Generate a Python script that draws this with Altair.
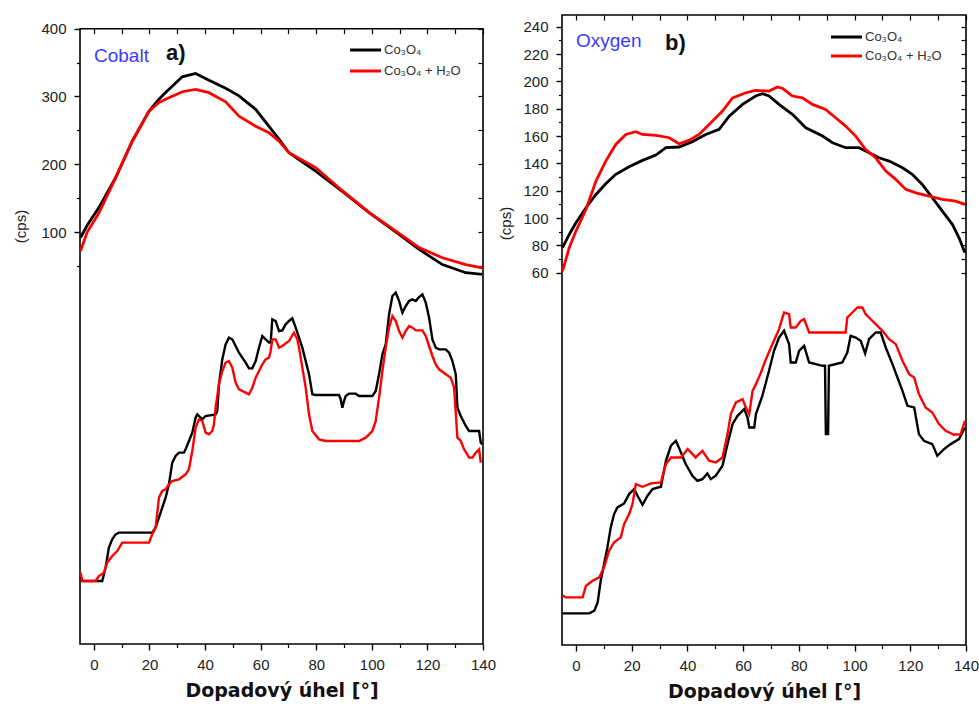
import altair as alt
import pandas as pd

S1 = "Co₃O₄"
S2 = "Co₃O₄ + H₂O"
FONT = "Liberation Sans"
BLACK = "#000000"
RED = "#ff0000"

# ---------------- Panel a (Cobalt) ----------------
# upper curves, counts (cps)
a_up_deg = [-4.8, -2.4, 1.8, 7.8, 13.8, 19.8, 23.4, 25.8, 31.8, 36.6, 41.4, 47.4, 52.2, 58.2,
            63.0, 66.6, 70.2, 79.8, 89.4, 99.0, 109.8, 117.0, 125.4, 133.8, 139.8]
a_up_black = [92, 110, 136, 180, 234, 278, 296, 306, 329, 334, 324, 312, 301, 281,
              256, 237, 217, 190, 160, 128.5, 96.5, 74.4, 52, 40, 37.5]
a_up_red = [72, 100, 128, 180, 234, 278, 291, 296, 307, 310.5, 305.6, 292, 271, 256,
            246.5, 234, 217, 195, 161, 129, 98, 77, 62, 52, 47]

# lower curves, arbitrary units (no axis)
a_lo_black_deg = [-4.8, -4.2, 3.0, 4.2, 5.4, 6.6, 7.8, 9.0, 21.0, 22.2, 23.4, 24.6, 25.8, 27.0,
                  28.2, 29.4, 30.6, 32.4, 33.0, 34.2, 35.4, 36.6, 37.2, 37.8, 39.0, 40.2, 43.8,
                  44.4, 45.0, 46.2, 47.4, 48.6, 49.8, 51.0, 52.2, 54.6, 55.8, 57.0, 58.2, 59.4,
                  60.6, 61.8, 63.0, 63.6, 64.2, 65.4, 66.6, 67.8, 69.0, 70.2, 71.4, 72.6, 73.8,
                  75.0, 76.2, 77.4, 78.6, 79.8, 88.2, 88.8, 89.4, 90.0, 90.6, 91.8, 94.2, 95.4,
                  100.2, 101.4, 102.6, 103.8, 105.0, 106.2, 107.4, 108.6, 109.8, 111.0, 112.2,
                  113.4, 114.6, 115.8, 117.0, 118.2, 119.4, 120.6, 121.8, 123.0, 124.2, 126.6,
                  127.8, 129.0, 130.2, 130.8, 132.0, 133.8, 135.0, 136.2, 138.6, 139.2, 139.8]
a_lo_black = [20.4, 18.9, 18.9, 22.9, 28.9, 31.4, 32.9, 33.4, 33.4, 34.9, 37.9, 40.9, 43.9, 47.9,
              54.4, 56.4, 57.4, 57.4, 58.4, 60.9, 63.4, 67.9, 68.9, 68.4, 67.4, 68.4, 68.9,
              69.9, 77.9, 85.4, 89.9, 91.9, 91.4, 89.4, 87.4, 84.4, 82.7, 82.7, 84.9, 88.9,
              92.4, 91.4, 90.4, 90.4, 97.4, 96.9, 93.9, 94.1, 95.9, 96.9, 97.7, 94.9, 91.9,
              88.9, 84.9, 80.9, 74.9, 74.7, 74.7, 73.4, 70.9, 72.9, 74.4, 75.1, 75.1, 74.4,
              74.4, 75.9, 80.9, 86.9, 89.9, 98.9, 104.4, 105.4, 102.9, 99.4, 101.4,
              102.9, 103.4, 102.9, 104.1, 104.9, 102.4, 97.9, 91.4, 88.9, 88.4, 88.4,
              87.4, 84.9, 80.9, 70.9, 68.4, 65.4, 63.9, 63.9, 63.9, 60.4, 59.9]
a_lo_red_deg = [-4.8, -4.2, 0.6, 1.8, 3.6, 4.8, 6.6, 8.4, 10.2, 19.8, 21.0, 22.2, 23.4, 24.6, 25.8,
                27.0, 28.2, 30.6, 33.0, 34.2, 35.4, 36.6, 37.8, 39.0, 40.2, 41.4, 42.6, 43.2,
                43.8, 45.0, 46.2, 47.4, 48.6, 49.8, 51.0, 52.2, 54.6, 55.8, 57.0, 58.2, 60.6,
                61.8, 63.0, 63.6, 64.2, 65.4, 66.6, 67.8, 70.2, 72.0, 73.2, 73.8, 75.0, 76.2,
                77.4, 78.6, 81.0, 83.4, 95.4, 97.8, 100.2, 101.4, 102.6, 103.8, 105.0, 106.2,
                107.4, 108.6, 109.8, 111.0, 112.2, 113.4, 114.6, 115.8, 118.2, 119.4, 120.6,
                121.8, 123.0, 124.2, 126.6, 128.4, 129.6, 130.8, 132.0, 133.2, 135.0, 136.2,
                137.4, 138.6, 139.2]
a_lo_red = [21.4, 18.9, 18.9, 20.4, 21.4, 24.4, 26.4, 27.9, 30.4, 30.4, 32.9, 34.9, 43.9, 45.9, 46.4,
            47.9, 48.9, 49.4, 50.9, 52.4, 57.9, 64.9, 67.4, 66.9, 63.4, 62.9, 63.9, 65.9,
            70.9, 77.9, 81.9, 84.4, 84.9, 82.9, 78.4, 76.4, 75.4, 74.9, 76.9, 79.9, 83.9,
            85.4, 85.9, 87.9, 91.4, 91.4, 88.9, 89.4, 90.9, 93.4, 91.4, 88.9, 82.9, 76.9,
            68.9, 63.9, 61.4, 60.9, 60.9, 61.9, 63.9, 66.9, 73.9, 81.9, 88.9, 94.9,
            98.4, 96.9, 93.9, 91.9, 93.9, 95.4, 94.9, 94.1, 94.1, 92.4, 89.4,
            86.4, 83.9, 82.4, 80.9, 79.9, 76.9, 61.9, 60.9, 58.4, 55.9, 55.9,
            57.4, 58.4, 54.4]

# ---------------- Panel b (Oxygen) ----------------
b_up_black_deg = [-4.8, -2.4, 0.0, 3.6, 7.2, 10.7, 14.3, 19.1, 23.9, 28.7, 32.3, 37.0, 41.8, 46.6,
                  51.4, 55.0, 59.8, 64.5, 66.9, 69.3, 72.9, 77.7, 82.5, 88.5, 92.1, 96.8, 101.6,
                  105.2, 108.8, 112.4, 117.2, 120.7, 124.3, 127.9, 131.5, 135.1, 137.5, 139.6]
b_up_black = [78.3, 88, 96.6, 107.6, 117.3, 125.1, 132, 137.6, 142.2, 146.1, 151.5, 152, 155.9, 161.2,
              164.9, 174.6, 183.2, 189.3, 191, 189.3, 183.2, 175.9, 166.1, 160, 155.1, 151.5, 151.5,
              147.8, 144.1, 141.7, 136.8, 132, 124.6, 114.9, 105.1, 95.4, 85.6, 74.6]
b_up_red_deg = [-4.8, -2.4, 0.0, 3.6, 7.2, 10.7, 14.3, 17.9, 21.5, 23.9, 28.7, 33.5, 37.0, 40.6,
                44.2, 47.8, 52.6, 56.2, 61.0, 64.5, 69.3, 72.3, 74.1, 77.7, 81.3, 84.9, 89.6,
                93.2, 96.8, 100.4, 104.0, 107.6, 111.2, 114.8, 118.4, 122.0, 126.7, 131.5, 136.3, 139.6]
b_up_red = [61.2, 78.3, 90.5, 106.3, 127.1, 141.7, 153.9, 161.2, 163.2, 161.2, 160.5, 158.8, 154.4, 156.8,
            161.2, 168.5, 178.3, 188, 191.7, 193.4, 192.9, 195.9, 194.9, 189.3, 188, 183.2, 179.5,
            173.4, 167.3, 160, 150.2, 144.1, 134.4, 128.3, 121, 118.5, 116.1, 113.7, 112.4, 110]

b_lo_black_deg = [-4.8, 4.8, 6.6, 7.8, 8.9, 10.1, 11.3, 12.5, 13.7, 14.9, 17.3, 19.1, 20.9, 22.1,
                  23.9, 25.7, 27.5, 30.5, 32.3, 34.1, 35.9, 37.7, 39.4, 41.8, 43.6, 45.4, 47.2,
                  48.4, 50.2, 52.6, 54.4, 56.2, 58.0, 60.4, 61.6, 62.2, 64.0, 64.6, 66.9, 69.3,
                  71.1, 72.9, 74.7, 76.5, 77.1, 78.9, 80.1, 81.9, 83.7, 88.5, 89.4, 89.7, 90.5,
                  90.8, 95.6, 97.4, 98.6, 100.4, 102.2, 103.8, 105.2, 107.6, 109.4, 111.2, 113.6,
                  115.4, 117.2, 119.0, 121.4, 123.1, 124.9, 127.9, 129.7, 132.1, 134.5, 137.5, 139.6]
b_lo_black = [9.5, 9.5, 10.3, 12.8, 19.3, 24.3, 29.3, 35.3, 39.3, 41.3, 42.5, 45.3, 46.8, 44.8,
              42.1, 44.8, 46.8, 47.5, 55.3, 59.8, 61.3, 57.8, 54.3, 50.8, 49.3, 49.8, 51.5,
              49.8, 50.8, 53.8, 60.3, 66.3, 68.8, 70.8, 68.3, 65.3, 65.3, 69.3, 74.8, 82.3,
              88.3, 92.3, 94.3, 90.3, 84.8, 84.8, 88.3, 89.8, 84.8, 83.8, 83.8, 63.3, 63.3,
              83.8, 84.8, 87.8, 92.8, 92.3, 91.3, 87.5, 91.8, 93.8, 93.8, 89.3, 84.3,
              80.3, 76.3, 71.8, 71.3, 63.3, 61.3, 60.3, 56.8, 58.8, 60.3, 61.8, 65.3]
b_lo_red_deg = [-4.8, -3.6, 2.4, 3.6, 6.0, 8.4, 10.1, 11.9, 13.7, 16.1, 17.3, 19.1, 20.3, 21.5,
                23.9, 26.9, 30.5, 32.3, 34.1, 37.7, 40.1, 43.0, 45.4, 47.8, 50.2, 52.6, 54.4,
                55.6, 57.4, 59.8, 61.0, 62.2, 63.4, 64.6, 66.4, 68.2, 70.5, 72.9, 74.7, 76.5,
                77.1, 78.9, 80.7, 81.9, 83.7, 96.8, 97.4, 99.2, 101.0, 102.8, 104.0, 105.2,
                107.6, 110.0, 112.4, 114.8, 117.2, 119.6, 121.4, 123.1, 125.5, 127.9, 130.3,
                132.7, 135.7, 138.1, 139.6]
b_lo_red = [14.8, 14.3, 14.3, 17.8, 19.3, 20.3, 23.3, 28.3, 30.8, 32.3, 36.3, 39.3, 42.3, 48.3,
            47.5, 48.5, 48.8, 54.3, 56.3, 56.3, 58.8, 56.3, 58.3, 55.3, 54.8, 56.3, 63.3,
            69.3, 72.8, 73.8, 71.3, 69.3, 76.3, 78.3, 81.8, 85.8, 90.3, 94.8, 99.8, 99.3,
            95.3, 95.3, 97.3, 97.8, 93.8, 93.8, 98.3, 99.8, 101.3, 101.3, 99.3, 98.3,
            96.3, 94.3, 91.8, 90.3, 85.3, 81.3, 80.3, 75.3, 71.3, 69.8, 66.3,
            64.3, 63.1, 63.3, 67.3]

X_MAJOR = [0, 20, 40, 60, 80, 100, 120, 140]
X_MINOR = [10, 30, 50, 70, 90, 110, 130]


def df(xs, ys):
    n = min(len(xs), len(ys))
    return pd.DataFrame({"x": xs[:n], "y": ys[:n]})


def panel(up_b, up_r, lo_b, lo_r, up_dom, frame_top, top_off, y_major, y_minor, lo_dom,
          W, H, title_x, title_y, name, name_xy, tag, tag_xy, leg_x, leg_y):
    xs = alt.Scale(domain=[-5, 140], nice=False, zero=False)
    ys = alt.Scale(domain=up_dom, nice=False, zero=False)
    ls = alt.Scale(domain=lo_dom, nice=False, zero=False)

    frame_df = pd.DataFrame({"x0": [-5], "x1": [140], "y0": [up_dom[0]], "y1": [frame_top]})
    frame = alt.Chart(frame_df).mark_rect(fillOpacity=0, stroke="black", strokeWidth=1.6).encode(
        x=alt.X("x0:Q", scale=xs, axis=alt.Axis(orient="top", values=X_MAJOR + X_MINOR, tickSize=5,
                                               tickWidth=1.2, tickColor="black", offset=-(top_off + 5),
                                               labels=False, domain=False, grid=False, title=None)),
        x2="x1:Q",
        y=alt.Y("y0:Q", scale=ys, axis=alt.Axis(orient="right", values=y_major + y_minor, tickSize=5,
                                               tickWidth=1.2, tickColor="black", offset=-5,
                                               labels=False, domain=False, grid=False, title=None)),
        y2="y1:Q",
    )

    minor = alt.Chart(up_b).mark_point(opacity=0).encode(
        x=alt.X("x:Q", scale=xs, axis=alt.Axis(orient="bottom", values=X_MINOR, tickSize=3.5,
                                              tickWidth=1.2, tickColor="black", labels=False,
                                              domain=False, grid=False, title=None)),
        y=alt.Y("y:Q", scale=ys, axis=alt.Axis(orient="left", values=y_minor, tickSize=3.5,
                                              tickWidth=1.2, tickColor="black", labels=False,
                                              domain=False, grid=False, title=None)),
    )

    upper_black = alt.Chart(up_b).mark_line(color=BLACK, strokeWidth=2.8).encode(
        x=alt.X("x:Q", scale=xs, axis=alt.Axis(
            orient="bottom", values=X_MAJOR, tickSize=6, tickWidth=1.4, tickColor="black",
            domain=False, grid=False, labelFlush=False, labelFont=FONT, labelFontSize=15,
            labelColor="#222", labelPadding=7, title="Dopadový úhel [°]", titleFont="DejaVu Sans",
            titleFontSize=19, titleFontWeight="bold", titleColor="#111", titlePadding=9)),
        y=alt.Y("y:Q", scale=ys, axis=alt.Axis(
            orient="left", values=y_major, tickSize=6, tickWidth=1.4, tickColor="black",
            domain=False, grid=False, labelFont=FONT, labelFontSize=15, labelColor="#222",
            labelPadding=8, title="(cps)", titleFont=FONT, titleFontSize=15,
            titleFontWeight="normal", titleColor="#222", titleX=title_x, titleY=title_y,
            titleAlign="center", titleBaseline="middle")),
    )
    upper_red = alt.Chart(up_r).mark_line(color=RED, strokeWidth=2.8).encode(
        x=alt.X("x:Q", scale=xs, axis=None), y=alt.Y("y:Q", scale=ys, axis=None))
    lower_black = alt.Chart(lo_b).mark_line(color=BLACK, strokeWidth=2.4).encode(
        x=alt.X("x:Q", scale=xs, axis=None), y=alt.Y("y:Q", scale=ls, axis=None))
    lower_red = alt.Chart(lo_r).mark_line(color=RED, strokeWidth=2.4).encode(
        x=alt.X("x:Q", scale=xs, axis=None), y=alt.Y("y:Q", scale=ls, axis=None))

    name_t = alt.Chart().mark_text(text=name, align="left", baseline="middle", font=FONT,
                                   fontSize=19, color="#3b3bff").encode(
        x=alt.value(name_xy[0]), y=alt.value(name_xy[1]))
    tag_t = alt.Chart().mark_text(text=tag, align="left", baseline="middle", font=FONT,
                                  fontSize=22, fontWeight="bold", color="#111").encode(
        x=alt.value(tag_xy[0]), y=alt.value(tag_xy[1]))
    leg1 = alt.Chart().mark_rule(color=BLACK, strokeWidth=3).encode(
        x=alt.value(leg_x), x2=alt.value(leg_x + 31), y=alt.value(leg_y[0]))
    leg2 = alt.Chart().mark_rule(color=RED, strokeWidth=3).encode(
        x=alt.value(leg_x), x2=alt.value(leg_x + 31), y=alt.value(leg_y[1]))
    leg1t = alt.Chart().mark_text(text=S1, align="left", baseline="middle", font=FONT,
                                  fontSize=13, color="#333").encode(
        x=alt.value(leg_x + 34), y=alt.value(leg_y[0]))
    leg2t = alt.Chart().mark_text(text=S2, align="left", baseline="middle", font=FONT,
                                  fontSize=13, color="#333").encode(
        x=alt.value(leg_x + 34), y=alt.value(leg_y[1]))

    return alt.layer(frame, minor, upper_black, upper_red, lower_black, lower_red,
                     name_t, tag_t, leg1, leg2, leg1t, leg2t).resolve_scale(
        x="independent", y="independent").properties(width=W, height=H)


pa = panel(df(a_up_deg, a_up_black), df(a_up_deg, a_up_red),
           df(a_lo_black_deg, a_lo_black), df(a_lo_red_deg, a_lo_red),
           up_dom=[-507.8, 420.2], frame_top=400, top_off=13.7,
           y_major=[100, 200, 300, 400], y_minor=[50, 150, 250, 350], lo_dom=[0, 188.7],
           W=403, H=629, title_x=-60, title_y=211, name="Cobalt", name_xy=(14, 41),
           tag="a)", tag_xy=(86, 38), leg_x=270, leg_y=(35, 56))

pb = panel(df(b_up_black_deg, b_up_black), df(b_up_red_deg, b_up_red),
           df(b_lo_black_deg, b_lo_black), df(b_lo_red_deg, b_lo_red),
           up_dom=[-212.4, 248.6], frame_top=248.6, top_off=0,
           y_major=[60, 80, 100, 120, 140, 160, 180, 200, 220, 240],
           y_minor=[70, 90, 110, 130, 150, 170, 190, 210, 230], lo_dom=[0, 189.1],
           W=404, H=630, title_x=-57, title_y=208, name="Oxygen", name_xy=(14, 26),
           tag="b)", tag_xy=(103, 28), leg_x=269, leg_y=(22, 41))

chart = alt.hconcat(pa, pb, spacing=2).configure_view(stroke=None).properties(
    padding={"left": 13, "top": 14, "right": 0, "bottom": 0}, background="white")

chart.save("out.html", embed_options={"renderer": "svg", "actions": False})
